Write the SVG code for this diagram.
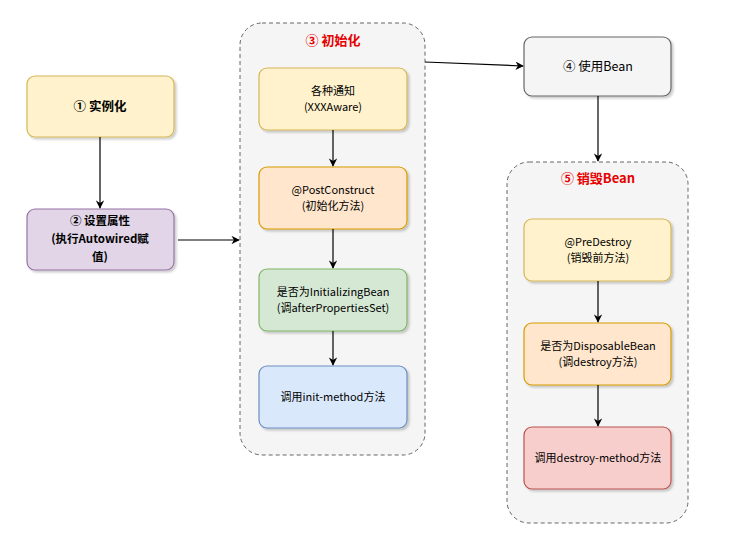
<svg xmlns="http://www.w3.org/2000/svg" width="745" height="546" viewBox="0 0 745 546">
<defs>
<marker id="ah" viewBox="0 0 10 10" refX="9" refY="5" markerWidth="7" markerHeight="7" orient="auto"><path d="M0,0 L10,5 L0,10 L3,5 Z" fill="#000"/></marker>
<filter id="sh"><feDropShadow dx="2" dy="2" stdDeviation="1" flood-opacity="0.2"/></filter>
</defs>
<style>
text{font-family:"Noto Sans CJK SC","Noto Sans",sans-serif;font-size:11px;text-anchor:middle;fill:#000}
.n{stroke-width:1.2;filter:url(#sh)}
.c{fill:#f5f5f5;stroke:#666;stroke-dasharray:4 3;stroke-width:1}
.t{fill:#e60000;font-weight:bold;font-size:13px}
.b{font-weight:bold;font-size:12.5px}
.b2{font-weight:bold;font-size:11.5px}
.e{stroke:#000;stroke-width:1.2;fill:none;marker-end:url(#ah)}
</style>
<rect width="745" height="546" fill="#fff"/>
<g id="init-group"><rect class="c" x="240" y="23" width="185" height="432" rx="22"/><text class="t" x="333" y="45">③ 初始化</text></g>
<g id="destroy-group"><rect class="c" x="507" y="162" width="181" height="361" rx="22"/><text class="t" x="598" y="183">⑤ 销毁Bean</text></g>
<g id="n1"><rect class="n" x="27" y="76" width="147" height="61" rx="8" fill="#fff2cc" stroke="#d6b656"/><text class="b" x="100" y="111">① 实例化</text></g>
<g id="n2"><rect class="n" x="27" y="209" width="147" height="61" rx="8" fill="#e1d5e7" stroke="#9673a6"/><text class="b2" x="100" y="225">② 设置属性</text><text class="b2" x="100" y="243">(执行Autowired赋</text><text class="b2" x="100" y="261">值)</text></g>
<g id="n3a"><rect class="n" x="259" y="68" width="148" height="62" rx="8" fill="#fff2cc" stroke="#d6b656"/><text x="333" y="95">各种通知</text><text x="333" y="111">(XXXAware)</text></g>
<g id="n3b"><rect class="n" x="259" y="167" width="148" height="62" rx="8" fill="#ffe6cc" stroke="#d79b00"/><text x="333" y="194">@PostConstruct</text><text x="333" y="210">(初始化方法)</text></g>
<g id="n3c"><rect class="n" x="259" y="269" width="148" height="62" rx="8" fill="#d5e8d4" stroke="#82b366"/><text x="333" y="296">是否为InitializingBean</text><text x="333" y="312">(调afterPropertiesSet)</text></g>
<g id="n3d"><rect class="n" x="259" y="366" width="148" height="62" rx="8" fill="#dae8fc" stroke="#6c8ebf"/><text x="333" y="401">调用init-method方法</text></g>
<g id="n4"><rect class="n" x="524" y="37" width="147" height="59" rx="8" fill="#f5f5f5" stroke="#666"/><text x="598" y="71" style="font-size:12.5px">④ 使用Bean</text></g>
<g id="n5a"><rect class="n" x="524" y="219" width="147" height="62" rx="8" fill="#fff2cc" stroke="#d6b656"/><text x="598" y="246">@PreDestroy</text><text x="598" y="262">(销毁前方法)</text></g>
<g id="n5b"><rect class="n" x="524" y="323" width="147" height="62" rx="8" fill="#ffe6cc" stroke="#d79b00"/><text x="598" y="350">是否为DisposableBean</text><text x="598" y="366">(调destroy方法)</text></g>
<g id="n5c"><rect class="n" x="524" y="427" width="147" height="62" rx="8" fill="#f8cecc" stroke="#b85450"/><text x="598" y="462">调用destroy-method方法</text></g>
<g id="edges">
<path class="e" d="M100,137 L100,208"/>
<path class="e" d="M178,240 L239,240"/>
<path class="e" d="M425,62 L523,66"/>
<path class="e" d="M598,96 L598,161"/>
<path class="e" d="M333,130 L333,166"/>
<path class="e" d="M333,229 L333,268"/>
<path class="e" d="M333,331 L333,365"/>
<path class="e" d="M598,281 L598,322"/>
<path class="e" d="M598,385 L598,426"/>
</g>
</svg>
